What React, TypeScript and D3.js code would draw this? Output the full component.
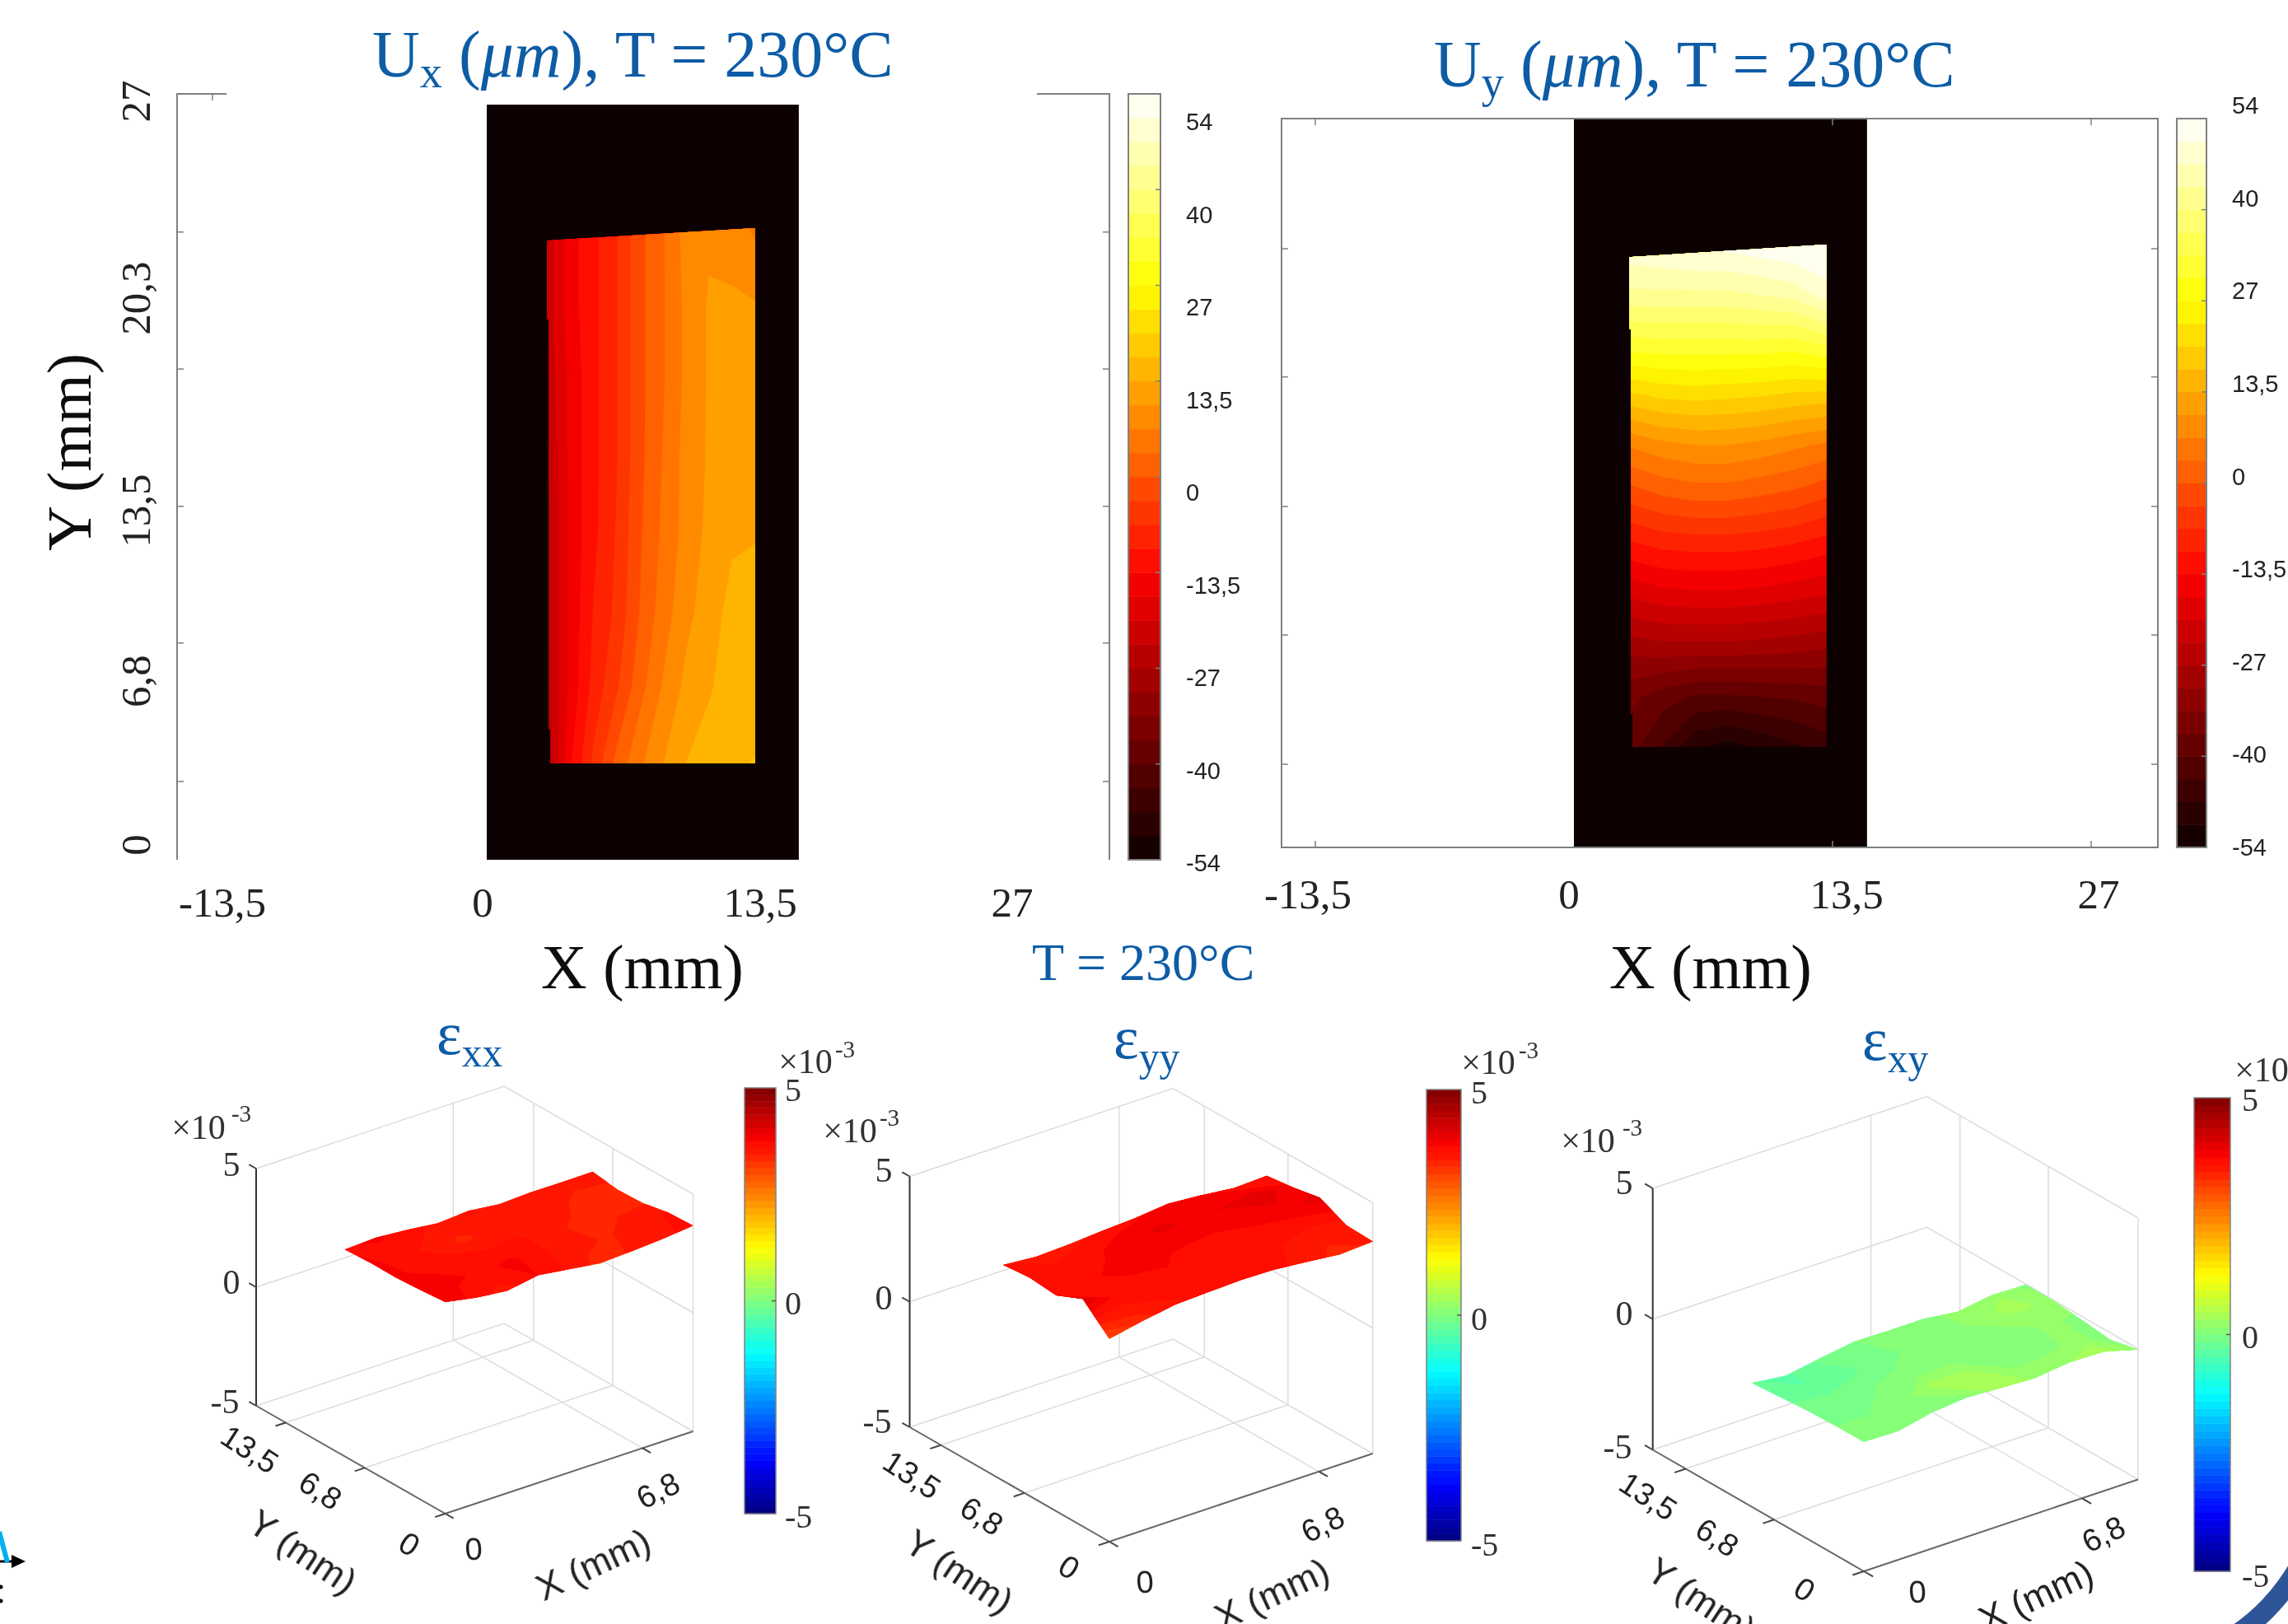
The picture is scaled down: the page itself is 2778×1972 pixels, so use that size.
import React from "react";
import * as d3 from "d3";

const SERIF = "Liberation Serif";
const SANS = "Liberation Sans";
const BLUE = "#0f5ca6";
const AXIS = "#808080";

// displacement fields, rows run from the top of the plate to the bottom, micrometres
const uxValues = [
  [-22, -15, -11, -7, -1, 3, 8, 9.5, 9, 6],
  [-22, -15, -11, -7, -1, 3, 7.5, 10.5, 10.5, 10.3],
  [-23, -16, -11, -7, -1, 3, 7.5, 10.5, 12.8, 13],
  [-24, -16, -11, -7, -1, 3.5, 8, 10.5, 13, 13],
  [-25, -16, -11, -6.5, -0.5, 4, 8, 11, 13, 13.2],
  [-25, -16, -10, -6, 0, 5, 9, 12, 14.5, 15.5],
  [-25, -16, -9, -4, 2, 7, 11, 13, 15.5, 15.5],
  [-26, -14, -6, 1, 6, 10, 13.5, 15.5, 16.5, 17],
];
const uyValues = [
  [50, 51, 52, 52, 53, 54, 54],
  [43, 43, 43, 43, 44, 45, 49],
  [32, 32.5, 32.5, 32.5, 32.5, 32, 34],
  [19.5, 21, 21.5, 21, 20.5, 19.5, 19],
  [7, 9, 10, 10, 9, 7.5, 6],
  [-2, 0, 1, 1, 0, -1, -3],
  [-11, -9.5, -9, -9, -9.5, -10.5, -12],
  [-20, -18.5, -18, -18, -18.5, -19.5, -20.5],
  [-29, -28, -28, -28, -28.5, -29, -30],
  [-36, -39, -41, -41, -40.5, -40, -39],
  [-39, -44, -50, -52, -50, -48, -46],
];

// plate outlines in mm
const uxPlate = [[2.96, 21.83], [13.21, 22.27], [13.21, 3.4], [3.12, 3.4], [3.12, 4.59], [3.04, 4.59], [3.04, 19.05], [2.96, 19.05]];
const uyPlate = [[2.9, 21.87], [13.17, 22.33], [13.17, 3.72], [3.06, 3.72], [3.06, 4.93], [2.97, 4.93], [2.97, 19.2], [2.9, 19.2]];

// strain surfaces in 1e-3, rows run from Y = 0 to the far Y edge, columns along X
const exxValues = [
  [3.92, 3.67, 3.52, 3.75, 3.57, 3.38, 3.45, 3.53, 3.67],
  [3.83, 3.78, 3.72, 3.78, 3.62, 3.5, 3.42, 3.5, 3.62],
  [3.77, 3.72, 3.62, 3.6, 3.62, 3.48, 3.4, 3.42, 3.42],
  [3.78, 3.65, 3.55, 3.4, 3.5, 3.55, 3.5, 3.35, 3.38],
  [3.72, 3.78, 3.68, 3.53, 3.62, 3.47, 3.53, 3.52, 3.53],
];
const eyyValues = [
  [3.08, 3.35, 3.57, 3.63, 3.68, 3.65, 3.52, 3.38, 3.46],
  [4.07, 3.7, 3.65, 3.72, 3.72, 3.65, 3.6, 3.5, 3.5],
  [3.61, 3.72, 3.8, 3.78, 3.72, 3.7, 3.75, 3.82, 3.99],
  [3.71, 3.65, 3.72, 3.85, 3.95, 3.88, 3.92, 4.02, 3.79],
  [3.61, 3.5, 3.55, 3.65, 3.72, 3.85, 3.75, 3.6, 3.65],
];
const exyValues = [
  [-0.05, -0.08, 0.21, 0.33, 0.26, 0.2, 0.36, 0.33, -0.03],
  [-0.06, -0.05, 0.05, 0.2, 0.12, 0.1, 0.15, 0.12, -0.27],
  [-0.09, -0.1, -0.05, 0.02, 0.02, 0.08, 0.2, 0.15, -0.14],
  [-0.18, -0.25, -0.12, -0.02, 0, 0.1, 0.25, 0.2, -0.03],
  [-0.26, -0.42, -0.2, 0, -0.02, -0.02, -0.18, 0.02, -0.02],
];
// the xy surface is flatter in colour than its outline suggests, so it gets its own shading values
const exyShade = [
  [0, 0, 0.1, 0.1, 0.4, 0.3, 0.3, 0.45, 0.2],
  [0, 0, 0.1, 0.4, 0.4, 0.1, 0.1, 0.2, 0.1],
  [-0.1, -0.05, 0, 0.05, 0.1, 0.05, 0.05, 0.2, 0.1],
  [-0.2, -0.3, -0.2, -0.05, 0.05, 0.05, 0.3, 0.35, 0.25],
  [-0.3, -0.35, -0.1, 0, 0, 0.05, 0.25, 0.3, 0.1],
];

const colorbarTicks = [-54, -40.5, -27, -13.5, 0, 13.5, 27, 40.5, 54];
const colorbarLabels = ["-54", "-40", "-27", "-13,5", "0", "13,5", "27", "40", "54"];
const xTickValues = [-13.5, 0, 13.5, 27];
const xTickLabels = ["-13,5", "0", "13,5", "27"];
const yTickValues = [0, 6.8, 13.5, 20.3, 27];
const yTickLabels = ["0", "6,8", "13,5", "20,3", "27"];
const leftYTicks = [22.13, 17.3, 12.46, 7.64, 2.76];
const rightYTicks = [22.18, 17.43, 12.63, 7.87, 3.08];

const HOT_LEVELS = 32;
const JET_LEVELS = 64;
const X_MAX = 8.55;
const Y_MAX = 16;
const SURFACE_Y = 8.5;

const hot = d3.scaleLinear<string>().domain([0, 0.375, 0.75, 1]).range(["#0a0000", "#ff0000", "#ffff00", "#ffffff"]);
const jet = d3.scaleLinear<string>().domain([0, 0.125, 0.375, 0.625, 0.875, 1]).range(["#00007f", "#0000ff", "#00ffff", "#ffff00", "#ff0000", "#7f0000"]);

// nested filled bands from d3.contours, only the levels the grid really reaches
function bands(grid: number[][], min: number, max: number, levels: number, color: (t: number) => string) {
  const ny = grid.length;
  const nx = grid[0].length;
  const step = (max - min) / levels;
  const low = Math.floor((d3.min(grid.flat())! - min) / step);
  const high = Math.floor((d3.max(grid.flat())! - min) / step);
  const idx = d3.range(Math.max(0, low), Math.min(levels - 1, high) + 1);
  const gen = d3.contours().size([nx, ny]).thresholds(idx.map((i) => min + i * step));
  return gen(grid.flat()).map((c, k) => ({ c, fill: color((idx[k] + 0.5) / levels) }));
}

function geoPathOf(fn: (gx: number, gy: number) => number[]) {
  return d3.geoPath(
    d3.geoTransform({
      point(x, y) {
        const p = fn(x, y);
        this.stream.point(p[0], p[1]);
      },
    })
  );
}

function Colorbar({ x0, x1, top, bottom, labelTop, labelBottom, labelX }: any) {
  const y = d3.scaleLinear().domain([-54, 54]).range([bottom, top]);
  const yLabel = d3.scaleLinear().domain([-54, 54]).range([labelBottom, labelTop]);
  const step = 108 / HOT_LEVELS;
  return (
    <g>
      {d3.range(HOT_LEVELS).map((i) => (
        <rect key={i} x={x0} width={x1 - x0} y={y(-54 + (i + 1) * step)} height={y(-54) - y(-54 + step) + 0.5} fill={hot((i + 0.5) / HOT_LEVELS)} />
      ))}
      <rect x={x0} y={top} width={x1 - x0} height={bottom - top} fill="none" stroke={AXIS} strokeWidth={2} />
      {colorbarTicks.slice(1, -1).map((t) => (
        <line key={t} x1={x1 - 6} x2={x1} y1={y(t)} y2={y(t)} stroke={AXIS} strokeWidth={1.5} />
      ))}
      {colorbarTicks.map((t, i) => (
        <text key={t} x={labelX} y={yLabel(t)} dominantBaseline="central" fontFamily={SANS} fontSize={29} fill="#222">
          {colorbarLabels[i]}
        </text>
      ))}
    </g>
  );
}

function FieldPlot({ id, grid, plate, x, y, specimen }: any) {
  const ny = grid.length;
  const nx = grid[0].length;
  const xs = plate.map((d: number[]) => d[0]);
  const ys = plate.map((d: number[]) => d[1]);
  const fx = d3.scaleLinear().domain([0.5, nx - 0.5]).range([d3.min(xs) as number, d3.max(xs) as number]);
  const fy = d3.scaleLinear().domain([0.5, ny - 0.5]).range([d3.max(ys) as number, d3.min(ys) as number]);
  const path = geoPathOf((gx, gy) => [x(fx(gx)), y(fy(gy))]);
  const outline = d3.line()(plate.map((d: number[]) => [x(d[0]), y(d[1])])) + "Z";
  return (
    <g>
      <rect x={x(0)} y={y(specimen[1])} width={x(specimen[0]) - x(0)} height={y(0) - y(specimen[1])} fill="#0a0000" />
      <clipPath id={id}>
        <path d={outline} />
      </clipPath>
      <g clipPath={`url(#${id})`}>
        {bands(grid, -54, 54, HOT_LEVELS, hot).map(({ c, fill }) => (
          <path key={c.value} d={path(c as any)!} fill={fill} />
        ))}
      </g>
    </g>
  );
}

function Title({ x, y, size, sub, rest, anchor, subDrop = 0.16 }: any) {
  return (
    <text x={x} y={y} textAnchor={anchor || "start"} fontFamily={SERIF} fontSize={size} fill={BLUE}>
      {rest[0]}
      <tspan fontSize={size * 0.68} dy={size * subDrop}>{sub}</tspan>
      {rest[1] && <tspan dy={-size * subDrop}> (</tspan>}
      {rest[1] && <tspan fontStyle="italic">μm</tspan>}
      {rest[1]}
    </text>
  );
}

function Times10({ x, y, supX, supY }: any) {
  return (
    <g fontFamily={SERIF} fill="#333">
      <text x={x} y={y} textAnchor="middle" dominantBaseline="central" fontSize={42}>×10</text>
      <text x={supX} y={supY} textAnchor="middle" dominantBaseline="central" fontSize={29}>-3</text>
    </g>
  );
}

function Surface({ p, values, shade }: any) {
  const fxS = d3.scaleLinear().domain([0, X_MAX]).range([0, 1]);
  const fyS = d3.scaleLinear().domain([0, Y_MAX]).range([0, 1]);
  const fzS = d3.scaleLinear().domain([-5, 5]).range([0, p.zh]);
  const project = (x: number, y: number, z: number) => [
    p.O[0] + fxS(x) * (p.R[0] - p.O[0]) + fyS(y) * (p.L[0] - p.O[0]),
    p.O[1] + fxS(x) * (p.R[1] - p.O[1]) + fyS(y) * (p.L[1] - p.O[1]) - fzS(z),
  ];
  const seg = (pts: number[][]) => d3.line()(pts.map((d) => project(d[0], d[1], d[2]) as [number, number]))!;

  const ny = values.length;
  const nx = values[0].length;
  const gridX = d3.scaleLinear().domain([0, nx - 1]).range([0, X_MAX]);
  const gridY = d3.scaleLinear().domain([0, ny - 1]).range([0, SURFACE_Y]);
  const heightAt = (i: number, j: number) => {
    const i0 = Math.min(Math.floor(i), nx - 2);
    const j0 = Math.min(Math.floor(j), ny - 2);
    const u = i - i0;
    const v = j - j0;
    return (
      values[j0][i0] * (1 - u) * (1 - v) + values[j0][i0 + 1] * u * (1 - v) + values[j0 + 1][i0] * (1 - u) * v + values[j0 + 1][i0 + 1] * u * v
    );
  };
  const path = geoPathOf((gx, gy) => {
    const i = Math.max(0, Math.min(nx - 1, gx - 0.5));
    const j = Math.max(0, Math.min(ny - 1, gy - 0.5));
    return project(gridX(i), gridY(j), heightAt(i, j));
  });

  const walls = [5, 0, -5].map((z) => seg([[0, Y_MAX, z], [X_MAX, Y_MAX, z], [X_MAX, 0, z]]));
  const floor = [
    seg([[6.8, 0, -5], [6.8, Y_MAX, -5]]),
    seg([[0, 6.8, -5], [X_MAX, 6.8, -5]]),
    seg([[0, 13.5, -5], [X_MAX, 13.5, -5]]),
  ];
  const verticals = [
    seg([[6.8, Y_MAX, -5], [6.8, Y_MAX, 5]]),
    seg([[X_MAX, 13.5, -5], [X_MAX, 13.5, 5]]),
    seg([[X_MAX, 6.8, -5], [X_MAX, 6.8, 5]]),
    seg([[X_MAX, 0, -5], [X_MAX, 0, 5]]),
  ];
  const c = p.cb;
  const cbY = d3.scaleLinear().domain([-5, 5]).range([c.bottom, c.top]);
  const cbStep = 10 / JET_LEVELS;
  const sans = (t: any) => (
    <text key={t.s + t.x} transform={`translate(${t.x},${t.y}) rotate(${t.r})`} textAnchor="middle" dominantBaseline="central" fontFamily={SANS} fontSize={t.f || 38} fill="#222">
      {t.s}
    </text>
  );
  return (
    <g>
      <Title x={p.titleX} y={p.titleY} size={73} sub={p.sub} rest={["ε"]} subDrop={0.2} />
      {[...walls, ...floor, ...verticals].map((d, i) => (
        <path key={i} d={d} fill="none" stroke="#dcdcdc" strokeWidth={1.5} />
      ))}
      <path d={seg([[0, Y_MAX, -5], [0, Y_MAX, 5]])} stroke="#333" strokeWidth={2} fill="none" />
      <path d={seg([[0, 0, -5], [0, Y_MAX, -5]])} stroke="#666" strokeWidth={2} fill="none" />
      <path d={seg([[0, 0, -5], [X_MAX, 0, -5]])} stroke="#666" strokeWidth={2} fill="none" />
      {[5, 0, -5].map((z) => (
        <path key={z} d={seg([[0, Y_MAX, z], [0, Y_MAX + 0.6, z]])} stroke="#444" strokeWidth={2} />
      ))}
      {[0, 6.8, 13.5].map((y) => (
        <path key={y} d={seg([[0, y, -5], [-0.35, y, -5]])} stroke="#444" strokeWidth={2} />
      ))}
      {[0, 6.8].map((x) => (
        <path key={x} d={seg([[x, 0, -5], [x, -0.7, -5]])} stroke="#444" strokeWidth={2} />
      ))}
      {bands(shade || values, -5, 5, JET_LEVELS, jet).map(({ c: b, fill }) => (
        <path key={b.value} d={path(b as any)!} fill={fill} />
      ))}
      {[5, 0, -5].map((z, i) => (
        <text key={z} x={p.zLabels[i][0]} y={p.zLabels[i][1]} textAnchor="middle" dominantBaseline="central" fontFamily={SERIF} fontSize={42} fill="#333">
          {z}
        </text>
      ))}
      <Times10 x={p.tenZ[0]} y={p.tenZ[1]} supX={p.tenZ[2]} supY={p.tenZ[3]} />
      {sans({ s: "13,5", x: p.y135[0], y: p.y135[1], r: 33 })}
      {sans({ s: "6,8", x: p.y68[0], y: p.y68[1], r: 33 })}
      {sans({ s: "0", x: p.y0[0], y: p.y0[1], r: 33 })}
      {sans({ s: "0", x: p.x0[0], y: p.x0[1], r: -3 })}
      {sans({ s: "6,8", x: p.x68[0], y: p.x68[1], r: -26 })}
      {sans({ s: "Y (mm)", x: p.yLab[0], y: p.yLab[1], r: 33.5, f: 45 })}
      {sans({ s: "X (mm)", x: p.xLab[0], y: p.xLab[1], r: -25, f: 45 })}
      {d3.range(JET_LEVELS).map((i) => (
        <rect key={i} x={c.x0} width={c.x1 - c.x0} y={cbY(-5 + (i + 1) * cbStep)} height={cbY(-5) - cbY(-5 + cbStep) + 0.5} fill={jet((i + 0.5) / JET_LEVELS)} />
      ))}
      <rect x={c.x0} y={c.top} width={c.x1 - c.x0} height={c.bottom - c.top} fill="none" stroke={AXIS} strokeWidth={1.5} />
      <line x1={c.x1 - 5} x2={c.x1} y1={cbY(0)} y2={cbY(0)} stroke="#555" strokeWidth={1.5} />
      {[5, 0, -5].map((z, i) => (
        <text key={z} x={c.lx} y={c.ly[i]} textAnchor="start" dominantBaseline="central" fontFamily={SERIF} fontSize={40} fill="#333">
          {z}
        </text>
      ))}
      <Times10 x={c.ten[0]} y={c.ten[1]} supX={c.ten[2]} supY={c.ten[3]} />
    </g>
  );
}

const panels = [
  {
    sub: "xx", values: exxValues, titleX: 530, titleY: 1280, O: [540.6, 1838], R: [841.6, 1738], L: [311, 1707], zh: 288,
    zLabels: [[281, 1414], [281, 1557], [273, 1702]], tenZ: [241, 1369, 293, 1352],
    y135: [303, 1760], y68: [389, 1810], y0: [497, 1875], x0: [575, 1881], x68: [799, 1810], yLab: [368, 1884], xLab: [720, 1899],
    cb: { x0: 904, x1: 942, top: 1321, bottom: 1838, lx: 953, ly: [1323, 1582, 1841], ten: [978, 1289, 1026, 1274] },
  },
  {
    sub: "yy", values: eyyValues, titleX: 1352, titleY: 1285, O: [1346.9, 1872], R: [1666.8, 1765], L: [1104.5, 1733], zh: 304.5,
    zLabels: [[1073, 1421], [1073, 1576], [1065, 1726]], tenZ: [1032, 1373, 1080, 1357],
    y135: [1107, 1791], y68: [1192, 1841], y0: [1298, 1903], x0: [1390, 1921], x68: [1606, 1851], yLab: [1165, 1908], xLab: [1544, 1935],
    cb: { x0: 1732, x1: 1774, top: 1323, bottom: 1871, lx: 1786, ly: [1326, 1601, 1875], ten: [1807, 1290, 1856, 1275] },
  },
  {
    sub: "xy", values: exyValues, shade: exyShade, titleX: 2261, titleY: 1287, O: [2263, 1908], R: [2596, 1796.5], L: [2006.7, 1760.5], zh: 317.5,
    zLabels: [[1972, 1436], [1972, 1595], [1964, 1757]], tenZ: [1928, 1385, 1982, 1369],
    y135: [2001, 1817], y68: [2085, 1867], y0: [2191, 1930], x0: [2328, 1933], x68: [2554, 1863], yLab: [2066, 1942], xLab: [2472, 1938],
    cb: { x0: 2664, x1: 2708, top: 1333, bottom: 1908, lx: 2722, ly: [1335, 1623, 1913], ten: [2746, 1299, 2798, 1284] },
  },
];

export default function App() {
  // left field
  const xL = d3.scaleLinear().domain([0, 13.5]).range([591, 924]);
  const yL = d3.scaleLinear().domain([0, 27]).range([1044, 114]);
  const xLabL = d3.scaleLinear().domain(xTickValues).range([270, 586, 923, 1229]);
  const yLabL = d3.scaleLinear().domain(yTickValues).range([1026, 827, 620, 362, 123]);
  // right field
  const xR = d3.scaleLinear().domain([0, 13.5]).range([1911, 2225]);
  const yR = d3.scaleLinear().domain([0, 27]).range([1029, 144]);
  const xLabR = d3.scaleLinear().domain(xTickValues).range([1588, 1905, 2242, 2548]);

  const left = xL.invert(215);
  const right = xL.invert(1347);
  const rightL = xR.invert(1556);
  const rightR = xR.invert(2620);

  return (
    <svg width={2778} height={1972} style={{ position: "absolute", left: 0, top: 0, display: "block", background: "#fff" }}>
      <filter id="soft">
        <feGaussianBlur stdDeviation={0.7} />
      </filter>
      <g filter="url(#soft)">
        {/* Ux */}
        <FieldPlot id="ux" grid={uxValues} plate={uxPlate} x={xL} y={yL} specimen={[15.36, 26.62]} />
        <path d={`M${xL(xL.invert(275))},${yL(27)}H${xL(left)}V${yL(0)}`} fill="none" stroke={AXIS} strokeWidth={2} />
        <path d={`M${xL(xL.invert(1259))},${yL(27)}H${xL(right)}V${yL(0)}`} fill="none" stroke={AXIS} strokeWidth={2} />
        <line x1={xL(-13.5)} x2={xL(-13.5)} y1={yL(27)} y2={yL(27) + 8} stroke={AXIS} strokeWidth={1.5} />
        {leftYTicks.map((t) => (
          <g key={t} stroke={AXIS} strokeWidth={1.5}>
            <line x1={xL(left)} x2={xL(left) + 8} y1={yL(t)} y2={yL(t)} />
            <line x1={xL(right) - 8} x2={xL(right)} y1={yL(t)} y2={yL(t)} />
          </g>
        ))}
        {xTickValues.map((t, i) => (
          <text key={t} x={xLabL(t)} y={1096} textAnchor="middle" dominantBaseline="central" fontFamily={SERIF} fontSize={51} fill="#222">
            {xTickLabels[i]}
          </text>
        ))}
        {yTickValues.map((t, i) => (
          <text key={t} transform={`translate(165,${yLabL(t)}) rotate(-90)`} textAnchor="middle" dominantBaseline="central" fontFamily={SERIF} fontSize={51} fill="#222">
            {yTickLabels[i]}
          </text>
        ))}
        <text transform="translate(84,549) rotate(-90)" textAnchor="middle" dominantBaseline="central" fontFamily={SERIF} fontSize={76} fill="#111">Y (mm)</text>
        <text x={780} y={1174} textAnchor="middle" dominantBaseline="central" fontFamily={SERIF} fontSize={77} fill="#111">X (mm)</text>
        <Title x={452} y={93} size={80} sub="x" rest={["U", "), T = 230°C"]} />
        <Colorbar x0={1370} x1={1409} top={114} bottom={1044} labelTop={148} labelBottom={1048} labelX={1440} />

        {/* Uy */}
        <FieldPlot id="uy" grid={uyValues} plate={uyPlate} x={xR} y={yR} specimen={[15.3, 27]} />
        <rect x={xR(rightL)} y={yR(27)} width={xR(rightR) - xR(rightL)} height={yR(0) - yR(27)} fill="none" stroke={AXIS} strokeWidth={2} />
        {[-13.5, 13.5, 27].map((t) => (
          <g key={t} stroke={AXIS} strokeWidth={1.5}>
            <line x1={xR(t)} x2={xR(t)} y1={yR(27)} y2={yR(27) + 8} />
            <line x1={xR(t)} x2={xR(t)} y1={yR(0) - 8} y2={yR(0)} />
          </g>
        ))}
        {rightYTicks.map((t) => (
          <g key={t} stroke={AXIS} strokeWidth={1.5}>
            <line x1={xR(rightL)} x2={xR(rightL) + 8} y1={yR(t)} y2={yR(t)} />
            <line x1={xR(rightR) - 8} x2={xR(rightR)} y1={yR(t)} y2={yR(t)} />
          </g>
        ))}
        {xTickValues.map((t, i) => (
          <text key={t} x={xLabR(t)} y={1086} textAnchor="middle" dominantBaseline="central" fontFamily={SERIF} fontSize={51} fill="#222">
            {xTickLabels[i]}
          </text>
        ))}
        <text x={2077} y={1174} textAnchor="middle" dominantBaseline="central" fontFamily={SERIF} fontSize={77} fill="#111">X (mm)</text>
        <Title x={1741} y={105} size={80} sub="y" rest={["U", "), T = 230°C"]} />
        <Colorbar x0={2643} x1={2679} top={144} bottom={1029} labelTop={128} labelBottom={1029} labelX={2710} />

        <text x={1253} y={1190} fontFamily={SERIF} fontSize={64} fill={BLUE}>T = 230°C</text>

        {panels.map((p) => (
          <Surface key={p.sub} p={p} values={p.values} shade={p.shade} />
        ))}

        {/* bits of the slide around the figure */}
        <path d="M0,1896H16" stroke="#000" strokeWidth={3} />
        <path d="M14,1888L31,1896L14,1904Z" fill="#000" />
        <path d="M-1,1860L9,1897" stroke="#00b0f0" strokeWidth={6} />
        <circle cx={1} cy={1927} r={2.5} fill="#000" />
        <circle cx={1} cy={1944} r={2.5} fill="#000" />
        <path d="M2715,1985Q2760,1955 2790,1905" fill="none" stroke="#2f5597" strokeWidth={24} />
      </g>
    </svg>
  );
}
